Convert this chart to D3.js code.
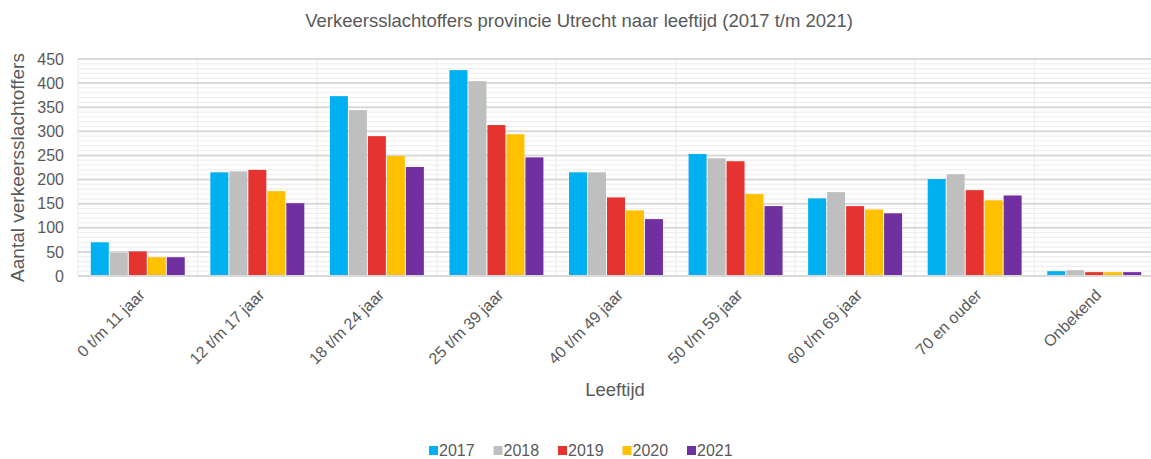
<!DOCTYPE html>
<html>

<head>
    <meta charset="utf-8">
    <style>
        body { margin: 0; background: #fff; }
        text { font-family: "Liberation Sans", Arial, sans-serif; fill: #595959; }
    </style>
</head>

<body>
    <svg width="1151" height="459"></svg>
    <script src="https://d3js.org/d3.v7.min.js"></script>
    <script>
        // leeftijdsgroepen
        var categories = ["0 t/m 11 jaar", "12 t/m 17 jaar", "18 t/m 24 jaar", "25 t/m 39 jaar",
            "40 t/m 49 jaar", "50 t/m 59 jaar", "60 t/m 69 jaar", "70 en ouder", "Onbekend"];
        var years = ["2017", "2018", "2019", "2020", "2021"];
        var colors = ["#00b0f0", "#bfbfbf", "#e53430", "#ffc000", "#7030a0"];

        var v2017 = [70, 215, 373, 427, 215, 253, 161, 201, 10];
        var v2018 = [48, 217, 344, 404, 215, 244, 174, 211, 12];
        var v2019 = [51, 220, 290, 313, 163, 238, 145, 178, 8];
        var v2020 = [39, 176, 249, 294, 136, 170, 138, 157, 8];
        var v2021 = [39, 151, 226, 246, 118, 145, 130, 167, 8];
        var series = [v2017, v2018, v2019, v2020, v2021];

        var yTicks = [0, 50, 100, 150, 200, 250, 300, 350, 400, 450];

        var svg = d3.select("svg");
        var plotLeft = 78, plotRight = 1154, plotTop = 59, plotBottom = 276;

        var x0 = d3.scaleBand().domain(categories).range([plotLeft, plotRight]).padding(0);
        var pad = 12.8;
        var x1 = d3.scaleBand().domain(years).range([pad, x0.bandwidth() - pad]).paddingInner(1 / 19);
        var y = d3.scaleLinear().domain([0, 450]).range([plotBottom, plotTop]);

        // kleine rasterlijnen
        svg.append("g").selectAll("line")
            .data(d3.range(10, 450, 10).filter(function (d) { return d % 50 != 0; }))
            .join("line")
            .attr("x1", plotLeft).attr("x2", plotRight)
            .attr("y1", function (d) { return y(d); })
            .attr("y2", function (d) { return y(d); })
            .attr("stroke", "#efefef")
            .attr("stroke-width", 1.2);

        // verticale lijnen tussen categorieen
        svg.append("g").selectAll("line")
            .data(categories)
            .join("line")
            .attr("x1", function (d) { return x0(d); })
            .attr("x2", function (d) { return x0(d); })
            .attr("y1", plotTop).attr("y2", plotBottom)
            .attr("stroke", "#f0f0f0")
            .attr("stroke-width", 1.5);

        // hoofdrasterlijnen
        svg.append("g").selectAll("line")
            .data(yTicks)
            .join("line")
            .attr("x1", plotLeft).attr("x2", plotRight)
            .attr("y1", function (d) { return y(d); })
            .attr("y2", function (d) { return y(d); })
            .attr("stroke", "#d9d9d9")
            .attr("stroke-width", 2);

        // staven
        var groups = svg.append("g").selectAll("g")
            .data(categories)
            .join("g")
            .attr("transform", function (d) { return "translate(" + x0(d) + ",0)"; });

        groups.selectAll("rect")
            .data(function (d, i) { return years.map(function (yr, j) { return { year: yr, value: series[j][i], c: colors[j] }; }); })
            .join("rect")
            .attr("x", function (d) { return x1(d.year); })
            .attr("width", x1.bandwidth())
            .attr("y", function (d) { return y(d.value); })
            .attr("height", function (d) { return y(0) - y(d.value) - 1; })
            .attr("fill", function (d) { return d.c; });

        // y-as
        var yAxis = svg.append("g")
            .attr("transform", "translate(" + (plotLeft - 14) + ",0)")
            .call(d3.axisLeft(y).tickValues(yTicks).tickSize(0).tickPadding(0));
        yAxis.select(".domain").remove();
        yAxis.selectAll("text").attr("font-size", 16).attr("fill", "#595959")
            .attr("font-family", "Liberation Sans, Arial, sans-serif");

        // x-as labels
        var xAxis = svg.append("g")
            .attr("transform", "translate(0," + (plotBottom + 11) + ")")
            .call(d3.axisBottom(x0).tickSize(0).tickPadding(0));
        xAxis.select(".domain").remove();
        xAxis.selectAll("text")
            .attr("font-size", 16)
            .attr("fill", "#595959")
            .attr("font-family", "Liberation Sans, Arial, sans-serif")
            .attr("text-anchor", "end")
            .attr("dy", "0.8em")
            .attr("transform", "translate(-1,0) rotate(-45)");

        // titels
        svg.append("text")
            .attr("x", 579).attr("y", 27)
            .attr("text-anchor", "middle")
            .attr("font-size", 18.5)
            .text("Verkeersslachtoffers provincie Utrecht naar leeftijd (2017 t/m 2021)");

        svg.append("text")
            .attr("x", 615).attr("y", 396)
            .attr("text-anchor", "middle")
            .attr("font-size", 18.5)
            .text("Leeftijd");

        svg.append("text")
            .attr("transform", "translate(24," + ((plotTop + plotBottom) / 2) + ") rotate(-90)")
            .attr("text-anchor", "middle")
            .attr("font-size", 19)
            .text("Aantal verkeersslachtoffers");

        // legenda
        var legend = svg.append("g").selectAll("g")
            .data(years)
            .join("g")
            .attr("transform", function (d, i) { return "translate(" + (429 + i * 64.5) + ",446)"; });
        legend.append("rect")
            .attr("width", 9).attr("height", 9)
            .attr("fill", function (d, i) { return colors[i]; });
        legend.append("text")
            .attr("x", 10).attr("y", 10)
            .attr("font-size", 16)
            .text(function (d) { return d; });
    </script>
</body>

</html>
